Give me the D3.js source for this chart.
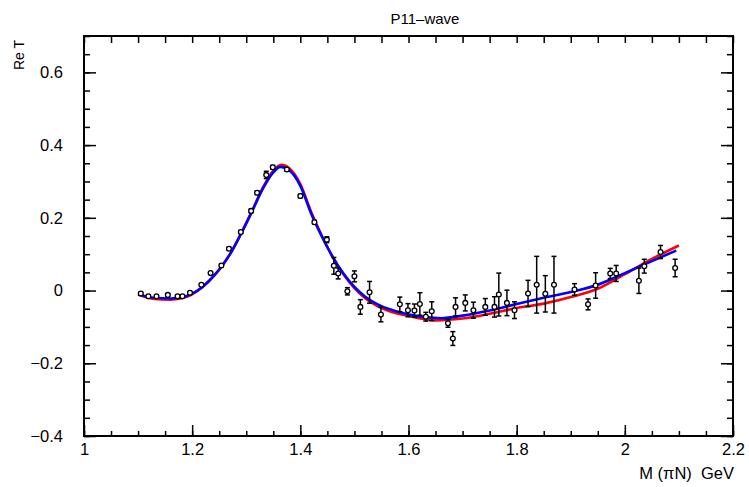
<!DOCTYPE html>
<html>
<head>
<meta charset="utf-8">
<script src="https://cdn.jsdelivr.net/npm/d3@7"></script>
<style>
body { margin: 0; background: #fff; }
text { font-family: "Liberation Sans", Arial, sans-serif; fill: #000; }
</style>
</head>
<body>
<svg id="chart" width="749" height="487"></svg>
<script>
// measured points: mass (GeV), Re T, error
var massPts = [1.105, 1.119, 1.134, 1.155, 1.173, 1.182, 1.196, 1.217, 1.234, 1.254, 1.268, 1.290, 1.309, 1.320, 1.337, 1.349, 1.375, 1.400, 1.426, 1.449, 1.462, 1.470, 1.487, 1.500, 1.511, 1.528, 1.549, 1.584, 1.599, 1.611, 1.621, 1.632, 1.643, 1.673, 1.682, 1.687, 1.705, 1.720, 1.742, 1.759, 1.767, 1.782, 1.796, 1.821, 1.837, 1.853, 1.869, 1.907, 1.932, 1.946, 1.973, 1.984, 2.026, 2.036, 2.066, 2.093];
var reT = [-0.008, -0.016, -0.016, -0.012, -0.016, -0.016, -0.006, 0.016, 0.048, 0.069, 0.115, 0.161, 0.219, 0.269, 0.318, 0.339, 0.333, 0.260, 0.188, 0.140, 0.068, 0.047, -0.002, 0.039, -0.045, -0.005, -0.066, -0.038, -0.054, -0.055, -0.037, -0.072, -0.057, -0.090, -0.132, -0.045, -0.034, -0.054, -0.045, -0.045, -0.011, -0.034, -0.054, -0.008, 0.016, -0.009, 0.016, 0.003, -0.038, 0.014, 0.047, 0.047, 0.027, 0.067, 0.106, 0.062];
var reTErr = [0.003, 0.003, 0.003, 0.003, 0.003, 0.003, 0.003, 0.003, 0.004, 0.004, 0.004, 0.004, 0.005, 0.005, 0.010, 0.005, 0.005, 0.005, 0.005, 0.008, 0.023, 0.015, 0.010, 0.015, 0.020, 0.030, 0.020, 0.020, 0.018, 0.018, 0.031, 0.012, 0.026, 0.011, 0.019, 0.025, 0.022, 0.022, 0.023, 0.028, 0.059, 0.035, 0.023, 0.036, 0.078, 0.050, 0.078, 0.016, 0.015, 0.035, 0.014, 0.022, 0.035, 0.019, 0.018, 0.024];

// fit curves
var blueM = [1.10, 1.13, 1.16, 1.19, 1.21, 1.23, 1.25, 1.27, 1.29, 1.31, 1.33, 1.35, 1.363, 1.38, 1.40, 1.42, 1.44, 1.46, 1.48, 1.50, 1.52, 1.55, 1.58, 1.62, 1.66, 1.70, 1.75, 1.80, 1.85, 1.90, 1.95, 2.00, 2.05, 2.095];
var blueT = [-0.010, -0.020, -0.022, -0.015, 0.000, 0.025, 0.058, 0.100, 0.155, 0.215, 0.278, 0.325, 0.340, 0.330, 0.288, 0.212, 0.148, 0.092, 0.046, 0.010, -0.017, -0.043, -0.058, -0.071, -0.076, -0.069, -0.055, -0.037, -0.020, -0.004, 0.016, 0.048, 0.081, 0.110];
var redM = [1.10, 1.13, 1.16, 1.19, 1.21, 1.23, 1.25, 1.27, 1.29, 1.31, 1.33, 1.35, 1.365, 1.38, 1.40, 1.42, 1.44, 1.46, 1.48, 1.50, 1.52, 1.55, 1.60, 1.65, 1.70, 1.75, 1.80, 1.85, 1.90, 1.95, 2.00, 2.05, 2.10];
var redT = [-0.011, -0.023, -0.025, -0.017, -0.001, 0.024, 0.057, 0.100, 0.156, 0.217, 0.281, 0.330, 0.346, 0.336, 0.293, 0.216, 0.150, 0.092, 0.044, 0.007, -0.021, -0.048, -0.070, -0.082, -0.077, -0.064, -0.048, -0.036, -0.018, 0.005, 0.045, 0.087, 0.124];

var xTicks = [1, 1.2, 1.4, 1.6, 1.8, 2, 2.2];
var yTicks = [-0.4, -0.2, 0, 0.2, 0.4, 0.6];

var svg = d3.select("#chart"),
	margin = {top: 36, right: 16, bottom: 51, left: 84},
	width = +svg.attr("width") - margin.left - margin.right,
	height = +svg.attr("height") - margin.top - margin.bottom,
	g = svg.append("g").attr("transform", "translate(" + margin.left + "," + margin.top + ")");

var x = d3.scaleLinear().domain([1, 2.2]).range([0, width]);
var y = d3.scaleLinear().domain([-0.4, 0.7]).range([height, 0]);

var minorX = d3.range(1, 2.2001, 0.05);
var minorY = d3.range(-0.4, 0.7001, 0.05);

function fmt(d) { return d3.format("~g")(d).replace("-", "\u2212"); }

// bottom
g.append("g").attr("transform", "translate(0," + height + ")")
	.call(d3.axisBottom(x).tickValues(minorX).tickSize(-5).tickFormat(""));
g.append("g").attr("class", "xmaj").attr("transform", "translate(0," + height + ")")
	.call(d3.axisBottom(x).tickValues(xTicks).tickSize(-11).tickPadding(7).tickFormat(fmt));
// top
g.append("g").call(d3.axisTop(x).tickValues(minorX).tickSize(-7).tickFormat(""));
// left
g.append("g").call(d3.axisLeft(y).tickValues(minorY).tickSize(-6).tickFormat(""));
g.append("g").attr("class", "ymaj")
	.call(d3.axisLeft(y).tickValues(yTicks).tickSize(-12).tickPadding(21).tickFormat(fmt));
// right
g.append("g").attr("transform", "translate(" + width + ",0)")
	.call(d3.axisRight(y).tickValues(minorY).tickSize(-6).tickFormat(""));
g.append("g").attr("transform", "translate(" + width + ",0)")
	.call(d3.axisRight(y).tickValues(yTicks).tickSize(-12).tickFormat(""));

g.selectAll(".domain").remove();
g.selectAll(".tick line").attr("stroke", "#000").attr("stroke-width", 1.5);
g.selectAll(".tick text").attr("font-size", 16.5).attr("font-family", "Liberation Sans, Arial, sans-serif");

g.append("rect").attr("width", width).attr("height", height)
	.attr("fill", "none").attr("stroke", "#000").attr("stroke-width", 2);

var line = d3.line().x(function(d) { return x(d[0]); }).y(function(d) { return y(d[1]); }).curve(d3.curveMonotoneX);

g.append("path").datum(d3.zip(redM, redT)).attr("d", line)
	.attr("fill", "none").attr("stroke", "#ff0000").attr("stroke-width", 2.6);
g.append("path").datum(d3.zip(blueM, blueT)).attr("d", line)
	.attr("fill", "none").attr("stroke", "#0000ff").attr("stroke-width", 2.6);

var pts = g.selectAll(".pt").data(d3.zip(massPts, reT, reTErr)).enter().append("g").attr("class", "pt");
pts.append("line")
	.attr("x1", function(d) { return x(d[0]); }).attr("x2", function(d) { return x(d[0]); })
	.attr("y1", function(d) { return y(d[1] - d[2]); }).attr("y2", function(d) { return y(d[1] + d[2]); })
	.attr("stroke", "#000").attr("stroke-width", 1.5);
[-1, 1].forEach(function(s) {
	pts.append("line")
		.attr("x1", function(d) { return x(d[0]) - 2.5; }).attr("x2", function(d) { return x(d[0]) + 2.5; })
		.attr("y1", function(d) { return y(d[1] + s * d[2]); }).attr("y2", function(d) { return y(d[1] + s * d[2]); })
		.attr("stroke", "#000").attr("stroke-width", 1.5);
});
pts.append("circle")
	.attr("cx", function(d) { return x(d[0]); }).attr("cy", function(d) { return y(d[1]); })
	.attr("r", 2.4).attr("fill", "#fff").attr("stroke", "#000").attr("stroke-width", 1.3);

svg.append("text").attr("x", 425).attr("y", 24).attr("text-anchor", "middle")
	.attr("font-size", 15).text("P11\u2013wave");
svg.append("text").attr("transform", "translate(24,55) rotate(-90)").attr("text-anchor", "middle")
	.attr("font-size", 14).text("Re T");
svg.append("text").attr("x", 734).attr("y", 479).attr("text-anchor", "end")
	.attr("font-size", 16.5).attr("xml:space", "preserve").text("M (\u03c0N)  GeV");
</script>
</body>
</html>
